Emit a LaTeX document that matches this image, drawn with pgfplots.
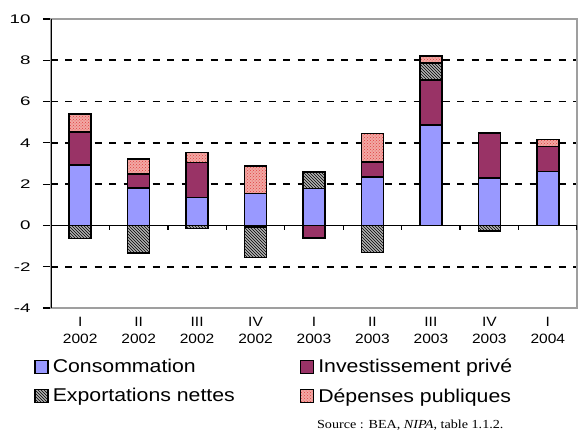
\documentclass[border=0pt]{standalone}
\usepackage{pgfplots}
\pgfplotsset{compat=1.18}
\usepackage{pgfplotstable}
\usetikzlibrary{patterns}
\usepackage{fontspec}
\setmainfont{Liberation Sans}[FakeStretch=1.15]
\newfontfamily\tickf{Liberation Sans}[FakeStretch=1.5]
\newfontfamily\timesf{Liberation Serif}[FakeStretch=1.15]
\definecolor{cons}{HTML}{9999FF}
\definecolor{inv}{HTML}{993366}
\definecolor{expg}{HTML}{B0B0B0}
\definecolor{depf}{HTML}{F2A8A4}
\definecolor{depp}{HTML}{E04040}

\pgfplotstableread{
x cons inv exp dep
0 2.93 1.60 0 0.86
1 1.80 0.69 0 0.73
2 1.36 1.68 0 0.49
3 1.54 0 0 1.34
4 1.78 0 0.82 0
5 2.34 0.73 0 1.38
6 4.87 2.17 0.82 0.36
7 2.30 2.18 0 0
8 2.62 1.21 0 0.34
}\postab

\pgfplotstableread{
x inv exp
0 0 -0.64
1 0 -1.34
2 0 -0.15
3 -0.07 -1.48
4 -0.60 0
5 0 -1.31
6 0 0
7 0 -0.28
8 0 0
}\negtab

\pgfplotsset{
  common/.style={
    at={(51pt,134pt)}, anchor=south west,
    scale only axis, width=526pt, height=289pt,
    xmin=-0.5, xmax=8.5, ymin=-4, ymax=10,
    ybar stacked, bar width=22pt,
  },
  barb/.style={draw=black, line width=1.6pt},
  sCons/.style={barb, fill=cons},
  sInv/.style={barb, fill=inv},
  sExp/.style={barb, fill=expg, postaction={pattern=north west lines, pattern color=black}},
  sDep/.style={barb, fill=depf, postaction={pattern=crosshatch dots, pattern color=depp}},
}

\begin{document}
\begin{tikzpicture}[x=1pt,y=1pt]
\useasboundingbox (0,0) rectangle (578,442);
\begin{axis}[common,
  axis line style={draw=gray!75, line width=1.5pt},
  ytick={-4,-2,0,2,4,6,8,10},
  yticklabels={-4,-2,0,2,4,6,8,10},
  ytick pos=left, tick align=outside, major tick length=8pt,
  ytick style={black, line width=1.2pt},
  yticklabel style={font=\tickf\fontsize{12.5}{14}\selectfont, xshift=-9pt},
  xtick=data, xtick style={draw=none},
  xticklabels={{I\\2002},{II\\2002},{III\\2002},{IV\\2002},{I\\2003},{II\\2003},{III\\2003},{IV\\2003},{I\\2004}},
  xticklabel style={align=center, font=\fontsize{13.5}{17}\selectfont, yshift=2pt},
  ymajorgrids, major grid style={black, line width=1.6pt, dash pattern=on 7pt off 7.5pt},
  legend columns=2, legend cell align=left,
  legend style={draw=none, fill=none, at={(-0.032,-0.17)}, anchor=north west,
    font=\fontsize{18.5}{21}\selectfont, inner sep=0pt, row sep=10pt,
    /tikz/every odd column/.append style={column sep=2pt},
    /tikz/every even column/.append style={column sep=63pt}},
  legend image code/.code={\draw[#1, line width=1.4pt] (0pt,-6.5pt) rectangle (13pt,6.5pt);},
]
\addplot[sCons] table[x=x,y=cons]{\postab};
\addplot[sInv] table[x=x,y=inv]{\postab};
\addplot[sExp] table[x=x,y=exp]{\postab};
\addplot[sDep] table[x=x,y=dep]{\postab};
\legend{Consommation, Investissement privé, Exportations nettes, Dépenses publiques}
\end{axis}
\begin{axis}[common, hide axis]
\addplot[sInv] table[x=x,y=inv]{\negtab};
\addplot[sExp] table[x=x,y=exp]{\negtab};
\draw[black, line width=1.2pt] (axis cs:-0.5,0) -- (axis cs:8.5,0);
\pgfplotsinvokeforeach{0.5,1.5,2.5,3.5,4.5,5.5,6.5,7.5,8.5}{
  \draw[black, line width=1.4pt] (axis cs:#1,0) -- ([yshift=-5pt]axis cs:#1,0);
}
\draw[black, line width=1.8pt] (rel axis cs:0,0) -- (rel axis cs:0,1);
\end{axis}
\node[anchor=base east, font=\timesf\fontsize{12.3}{14}\selectfont] at (507,14) {Source : BEA, \textit{NIPA}, table 1.1.2.};
\end{tikzpicture}
\end{document}
